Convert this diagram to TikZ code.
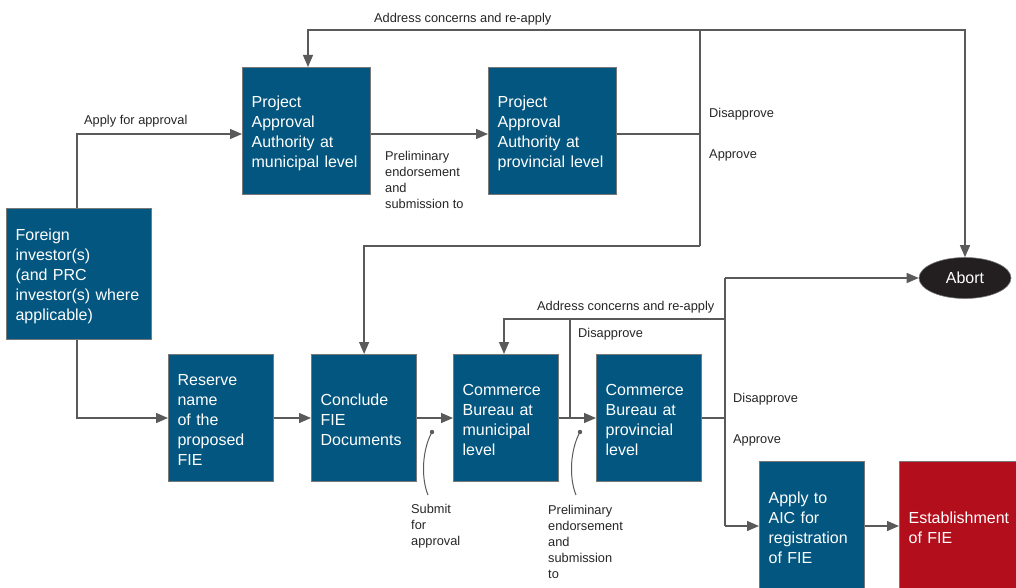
\documentclass[tikz,border=0pt]{standalone}
\usepackage{fontspec}
\setmainfont{Liberation Sans}
\usetikzlibrary{arrows.meta,shapes.geometric}
\definecolor{boxblue}{RGB}{2,86,127}
\definecolor{boxred}{RGB}{179,14,28}
\definecolor{linegray}{RGB}{90,90,90}
\definecolor{bordergray}{RGB}{120,120,120}
\definecolor{abortfill}{RGB}{35,31,32}
\newcommand{\tstrut}{\rule{0pt}{15.5pt}}
\tikzset{
  stepbox/.style={draw=bordergray, line width=1.2pt, fill=boxblue, text=white,
    font=\fontsize{16}{20}\selectfont, align=left, inner xsep=9pt, inner ysep=0pt,
    anchor=north west},
  redbox/.style={stepbox, fill=boxred},
  lbl/.style={font=\fontsize{12.8}{16}\selectfont, text=black!85, align=left, inner sep=0pt, anchor=west},
  conn/.style={draw=linegray, line width=1.3pt},
  arr/.style={conn, -{Triangle[length=12pt,width=10pt]}},
  callout/.style={draw=linegray, line width=1pt},
}
\begin{document}
\begin{tikzpicture}[x=1pt,y=-1pt]
\useasboundingbox (0,0) rectangle (1016,588);
\fill[white] (0,0) rectangle (1016,588);
% boxes
\node[stepbox, minimum width=145pt, minimum height=131pt, text width=127pt] (fi) at (6,208) {\tstrut Foreign\\investor(s)\\(and PRC\\investor(s) where\\applicable)};
\node[stepbox, minimum width=128pt, minimum height=127pt, text width=110pt] (pam) at (242,67) {\tstrut Project\\Approval\\Authority at\\municipal level};
\node[stepbox, minimum width=128pt, minimum height=127pt, text width=110pt] (pap) at (488,67) {\tstrut Project\\Approval\\Authority at\\provincial level};
\node[stepbox, minimum width=105pt, minimum height=127pt, text width=87pt] (res) at (168,354) {\tstrut Reserve\\name\\of the\\proposed\\FIE};
\node[stepbox, minimum width=105pt, minimum height=127pt, text width=87pt] (con) at (311,354) {\tstrut Conclude\\FIE\\Documents};
\node[stepbox, minimum width=105pt, minimum height=127pt, text width=87pt] (cbm) at (453,354) {\tstrut Commerce\\Bureau at\\municipal\\level};
\node[stepbox, minimum width=105pt, minimum height=127pt, text width=87pt] (cbp) at (596,354) {\tstrut Commerce\\Bureau at\\provincial\\level};
\node[stepbox, minimum width=105pt, minimum height=128pt, text width=87pt] (aic) at (759,461) {\tstrut Apply to\\AIC for\\registration\\of FIE};
\node[redbox, minimum width=130pt, minimum height=128pt, text width=112pt] (est) at (899,461) {\tstrut Establishment\\of FIE};
\node[ellipse, fill=abortfill, draw=bordergray, line width=0.6pt, text=white, minimum width=92pt, minimum height=41pt, inner sep=0pt, font=\fontsize{16}{20}\selectfont] (abort) at (965,278) {Abort};
% junction coordinates
\coordinate (jA) at (700,30);
\coordinate (jB) at (700,134);
\coordinate (jC) at (700,246);
\coordinate (jD) at (570,418);
\coordinate (jE) at (570,319);
\coordinate (jF) at (725,319);
\coordinate (jG) at (725,418);
\coordinate (jH) at (725,278);
\coordinate (jI) at (725,526);
% connectors
\draw[arr] (fi.north -| 77,0) |- (pam.west |- jB);
\draw[arr] (pam.east |- jB) -- (pap.west |- jB);
\draw[conn] (pap.east |- jB) -- (jB);
\draw[conn] (jA) -- (jC);
\draw[arr] (jA) -| (pam.north -| 308,0);
\draw[arr] (jA) -| (abort.north);
\draw[arr] (jC) -| (con.north);
\draw[arr] (fi.south -| 77,0) |- (res.west |- jG);
\draw[arr] (res.east |- jG) -- (con.west |- jG);
\draw[arr] (con.east |- jG) -- (cbm.west |- jG);
\draw[arr] (cbm.east |- jG) -- (cbp.west |- jG);
\draw[conn] (jD) -- (jE);
\draw[arr] (jF) -| (cbm.north -| 504,0);
\draw[conn] (cbp.east |- jG) -- (jG);
\draw[conn] (jH) -- (jI);
\draw[arr] (jH) -- (abort.west);
\draw[arr] (jI) -- (aic.west |- jI);
\draw[arr] (aic.east |- jI) -- (est.west |- jI);
% callouts
\coordinate (d1) at (432,432);
\coordinate (d2) at (580,432);
\fill[linegray] (d1) circle (2.2pt);
\fill[linegray] (d2) circle (2.2pt);
\draw[callout] (d1) .. controls (422,450) and (421,478) .. (428,495);
\draw[callout] (d2) .. controls (570,450) and (569,478) .. (576,495);
% labels
\node[lbl] (l1) at (374,19) {Address concerns and re-apply};
\node[lbl] (l2) at (84,121) {Apply for approval};
\node[lbl, anchor=north west] (l3) at (385,151) {Preliminary\\endorsement\\and\\submission to};
\node[lbl] (l4) at (709,114) {Disapprove};
\node[lbl] (l5) at (709,155) {Approve};
\node[lbl] (l6) at (537,307) {Address concerns and re-apply};
\node[lbl] (l7) at (578,334) {Disapprove};
\node[lbl] (l8) at (733,399) {Disapprove};
\node[lbl] (l9) at (733,440) {Approve};
\node[lbl, anchor=north west] (l10) at (411,504) {Submit\\for\\approval};
\node[lbl, anchor=north west] (l11) at (548,505) {Preliminary\\endorsement\\and\\submission\\to};
\end{tikzpicture}
\end{document}
